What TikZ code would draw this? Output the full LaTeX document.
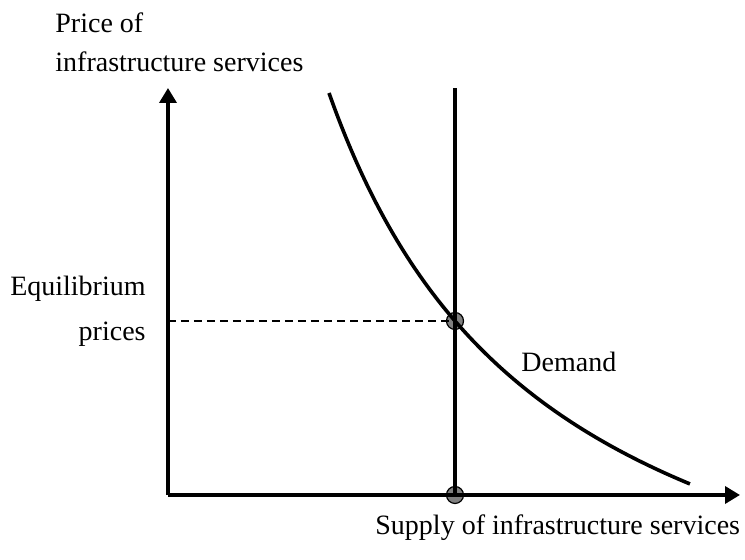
\documentclass[tikz,border=0pt]{standalone}
\usepackage{fontspec}
\setmainfont{Liberation Serif}
\usetikzlibrary{arrows.meta}
\begin{document}
\begin{tikzpicture}[x=0.5pt,y=0.5pt,
  axisline/.style={line width=1.8pt,-{Triangle[length=7.5pt,width=8.5pt]}},
  thickline/.style={line width=1.8pt},
  dashline/.style={line width=0.7pt,dash pattern=on 4pt off 2.5pt},
  dot/.style={circle,draw=black,line width=0.6pt,fill=black!50,minimum size=8.5pt,inner sep=0pt},
  lbl/.style={inner sep=0pt,font=\fontsize{14}{17}\selectfont}]
\useasboundingbox (-168,-65) rectangle (577,495);
\coordinate (O) at (0,0);
\coordinate (ytop) at (0,407);
\coordinate (xend) at (572,0);
\coordinate (stop) at (287,407);
\coordinate (pax) at (0,174);
% dots (under the lines)
\node[dot] (E) at (287,174) {};
\node[dot] (S) at (287,0) {};
% axes
\draw[axisline] (O) -- (ytop);
\draw[axisline] (O) -- (xend);
% demand curve
\draw[thickline] plot[domain=1.61:5.22,samples=80,smooth] ({100*\x},{100*(14.227/(\x+0.634)-2.32)});
% supply line and price level
\draw[dashline] (pax) -- (E.center);
\draw[thickline] (S.center) -- (stop);
% labels
\node[lbl,anchor=base west] (p1) at (-113,462) {Price of};
\node[lbl,anchor=base west] (p2) at (-113,423) {infrastructure services};
\node[lbl,anchor=base east] (e1) at (-22,199) {Equilibrium};
\node[lbl,anchor=base east] (e2) at (-22,154) {prices};
\node[lbl,anchor=base west] (dm) at (353,123) {Demand};
\node[lbl,anchor=base west] (sp) at (207,-40) {Supply of infrastructure services};
\end{tikzpicture}
\end{document}
